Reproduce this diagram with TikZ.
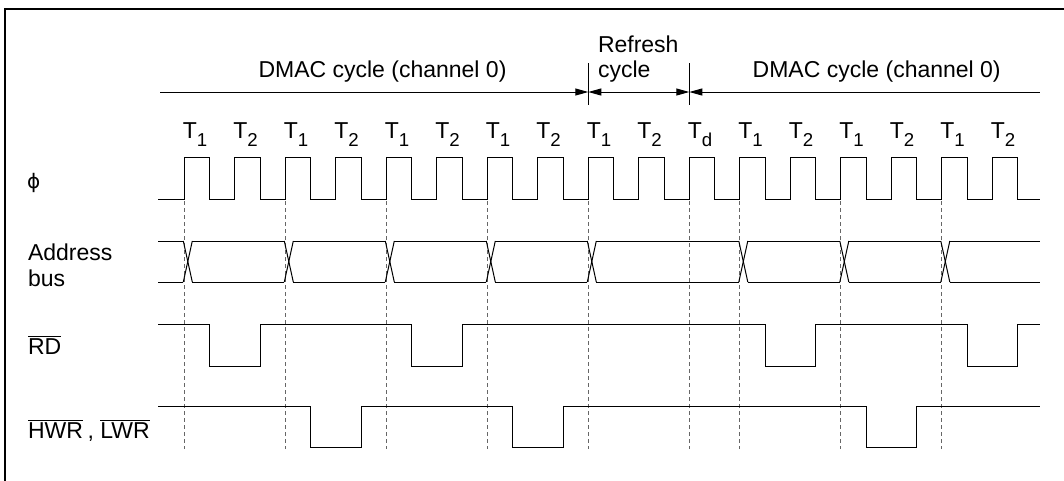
\documentclass[tikz,border=0pt]{standalone}
\usepackage{fontspec}
\setmainfont{Liberation Sans}
\newfontfamily\dejavu{DejaVu Sans}
\usetikzlibrary{arrows.meta}
\newcommand\tsub[1]{\raisebox{-5.8pt}{\fontsize{14}{14}\selectfont #1}}
\newcommand\ovl[1]{$\overline{\hbox{#1}}$}
\begin{document}
\begin{tikzpicture}[x=0.75pt,y=-0.75pt,
  every node/.style={inner sep=0pt, outer sep=0pt, font=\fontsize{17.25}{20}\selectfont},
  sig/.style={line width=0.75pt, black},
  guide/.style={line width=0.75pt, black!60, dash pattern=on 3pt off 2.25pt},
  frameline/.style={line width=1.5pt, black},
  headR/.style={-{Triangle[length=9.75pt,width=5.25pt]}},
  headB/.style={{Triangle[length=9.75pt,width=5.25pt]}-{Triangle[length=9.75pt,width=5.25pt]}},
  headL/.style={{Triangle[length=9.75pt,width=5.25pt]}-}
]
\useasboundingbox (0,0) rectangle (1064,480);
\fill[white] (0,0) rectangle (1064,480);
% frame (only top and left visible)
\draw[frameline] (5,481) -- (5,9.3) -- (1065,9.3);

% cycle arrows
\coordinate (a0) at (160,92);
\coordinate (a1) at (588.3,92);
\coordinate (a2) at (689.3,92);
\coordinate (a3) at (1040,92);
\coordinate (b1t) at (588.3,63);
\coordinate (b1b) at (588.3,105);
\coordinate (b2t) at (689.3,63);
\coordinate (b2b) at (689.3,105);
\draw[sig] (b1t) -- (b1b);
\draw[sig] (b2t) -- (b2b);
\draw[sig,headR] (a0) -- (a1);
\draw[sig,headB] (a1) -- (a2);
\draw[sig,headL] (a2) -- (a3);
\node[anchor=base] (dmac1) at (382.5,77.7) {DMAC cycle (channel 0)};
\node[anchor=base west] (refresh) at (598,52.7) {Refresh};
\node[anchor=base west] (refcyc) at (598,77.7) {cycle};
\node[anchor=base] (dmac2) at (876.7,77.7) {DMAC cycle (channel 0)};

% state labels
\foreach \k/\s in {0/1,1/2,2/1,3/2,4/1,5/2,6/1,7/2,8/1,9/2,10/d,11/1,12/2,13/1,14/2,15/1,16/2}
  \node[anchor=base west] (t\k) at ({184.3+50.5*\k-1.5},138.5) {T\tsub{\s}};

% signal names
\node[anchor=base west] (phi) at (27,188) {\dejavu\fontsize{15}{16}\selectfont ϕ};
\node[anchor=base west] (addr) at (28,260) {Address};
\node[anchor=base west] (bus) at (28,286.7) {bus};
\node[anchor=base west] (rd) at (28,354) {\ovl{RD}};
\node[anchor=base west] (wr) at (28,438.3) {\ovl{HWR}\hspace{3.5pt}, \ovl{LWR}};

% guide lines
\foreach \k in {0,2,4,6,8,10,11,13,15}
  \draw[guide] ({184.3+50.5*\k},201) -- ({184.3+50.5*\k},449);

% clock
\draw[sig] (158,199) \foreach \k in {0,...,16} {
   -- ({184.3+50.5*\k},199) -- ({184.3+50.5*\k},157.5)
   -- ({209.55+50.5*\k},157.5) -- ({209.55+50.5*\k},199) } -- (1040,199);

% address bus
\foreach \k in {0,2,4,6,8,11,13,15} {
  \draw[sig] ({184.3+50.5*\k-1},241) -- ({184.3+50.5*\k+8},282);
  \draw[sig] ({184.3+50.5*\k-1},282) -- ({184.3+50.5*\k+8},241);
}
\foreach \a/\b in {158/183.3, 192.3/284.3, 293.3/385.3, 394.3/486.3, 495.3/587.3, 596.3/738.8, 747.8/839.8, 848.8/940.8, 949.8/1040} {
  \draw[sig] (\a,241) -- (\b,241);
  \draw[sig] (\a,282) -- (\b,282);
}

% RD
\draw[sig] (158,324) \foreach \k in {0,4,11,15} {
   -- ({209.55+50.5*\k},324) -- ({209.55+50.5*\k},366)
   -- ({260.05+50.5*\k},366) -- ({260.05+50.5*\k},324) } -- (1040,324);

% HWR, LWR
\draw[sig] (158,406) \foreach \k in {2,6,13} {
   -- ({209.55+50.5*\k},406) -- ({209.55+50.5*\k},447.5)
   -- ({260.05+50.5*\k},447.5) -- ({260.05+50.5*\k},406) } -- (1040,406);
\end{tikzpicture}
\end{document}
